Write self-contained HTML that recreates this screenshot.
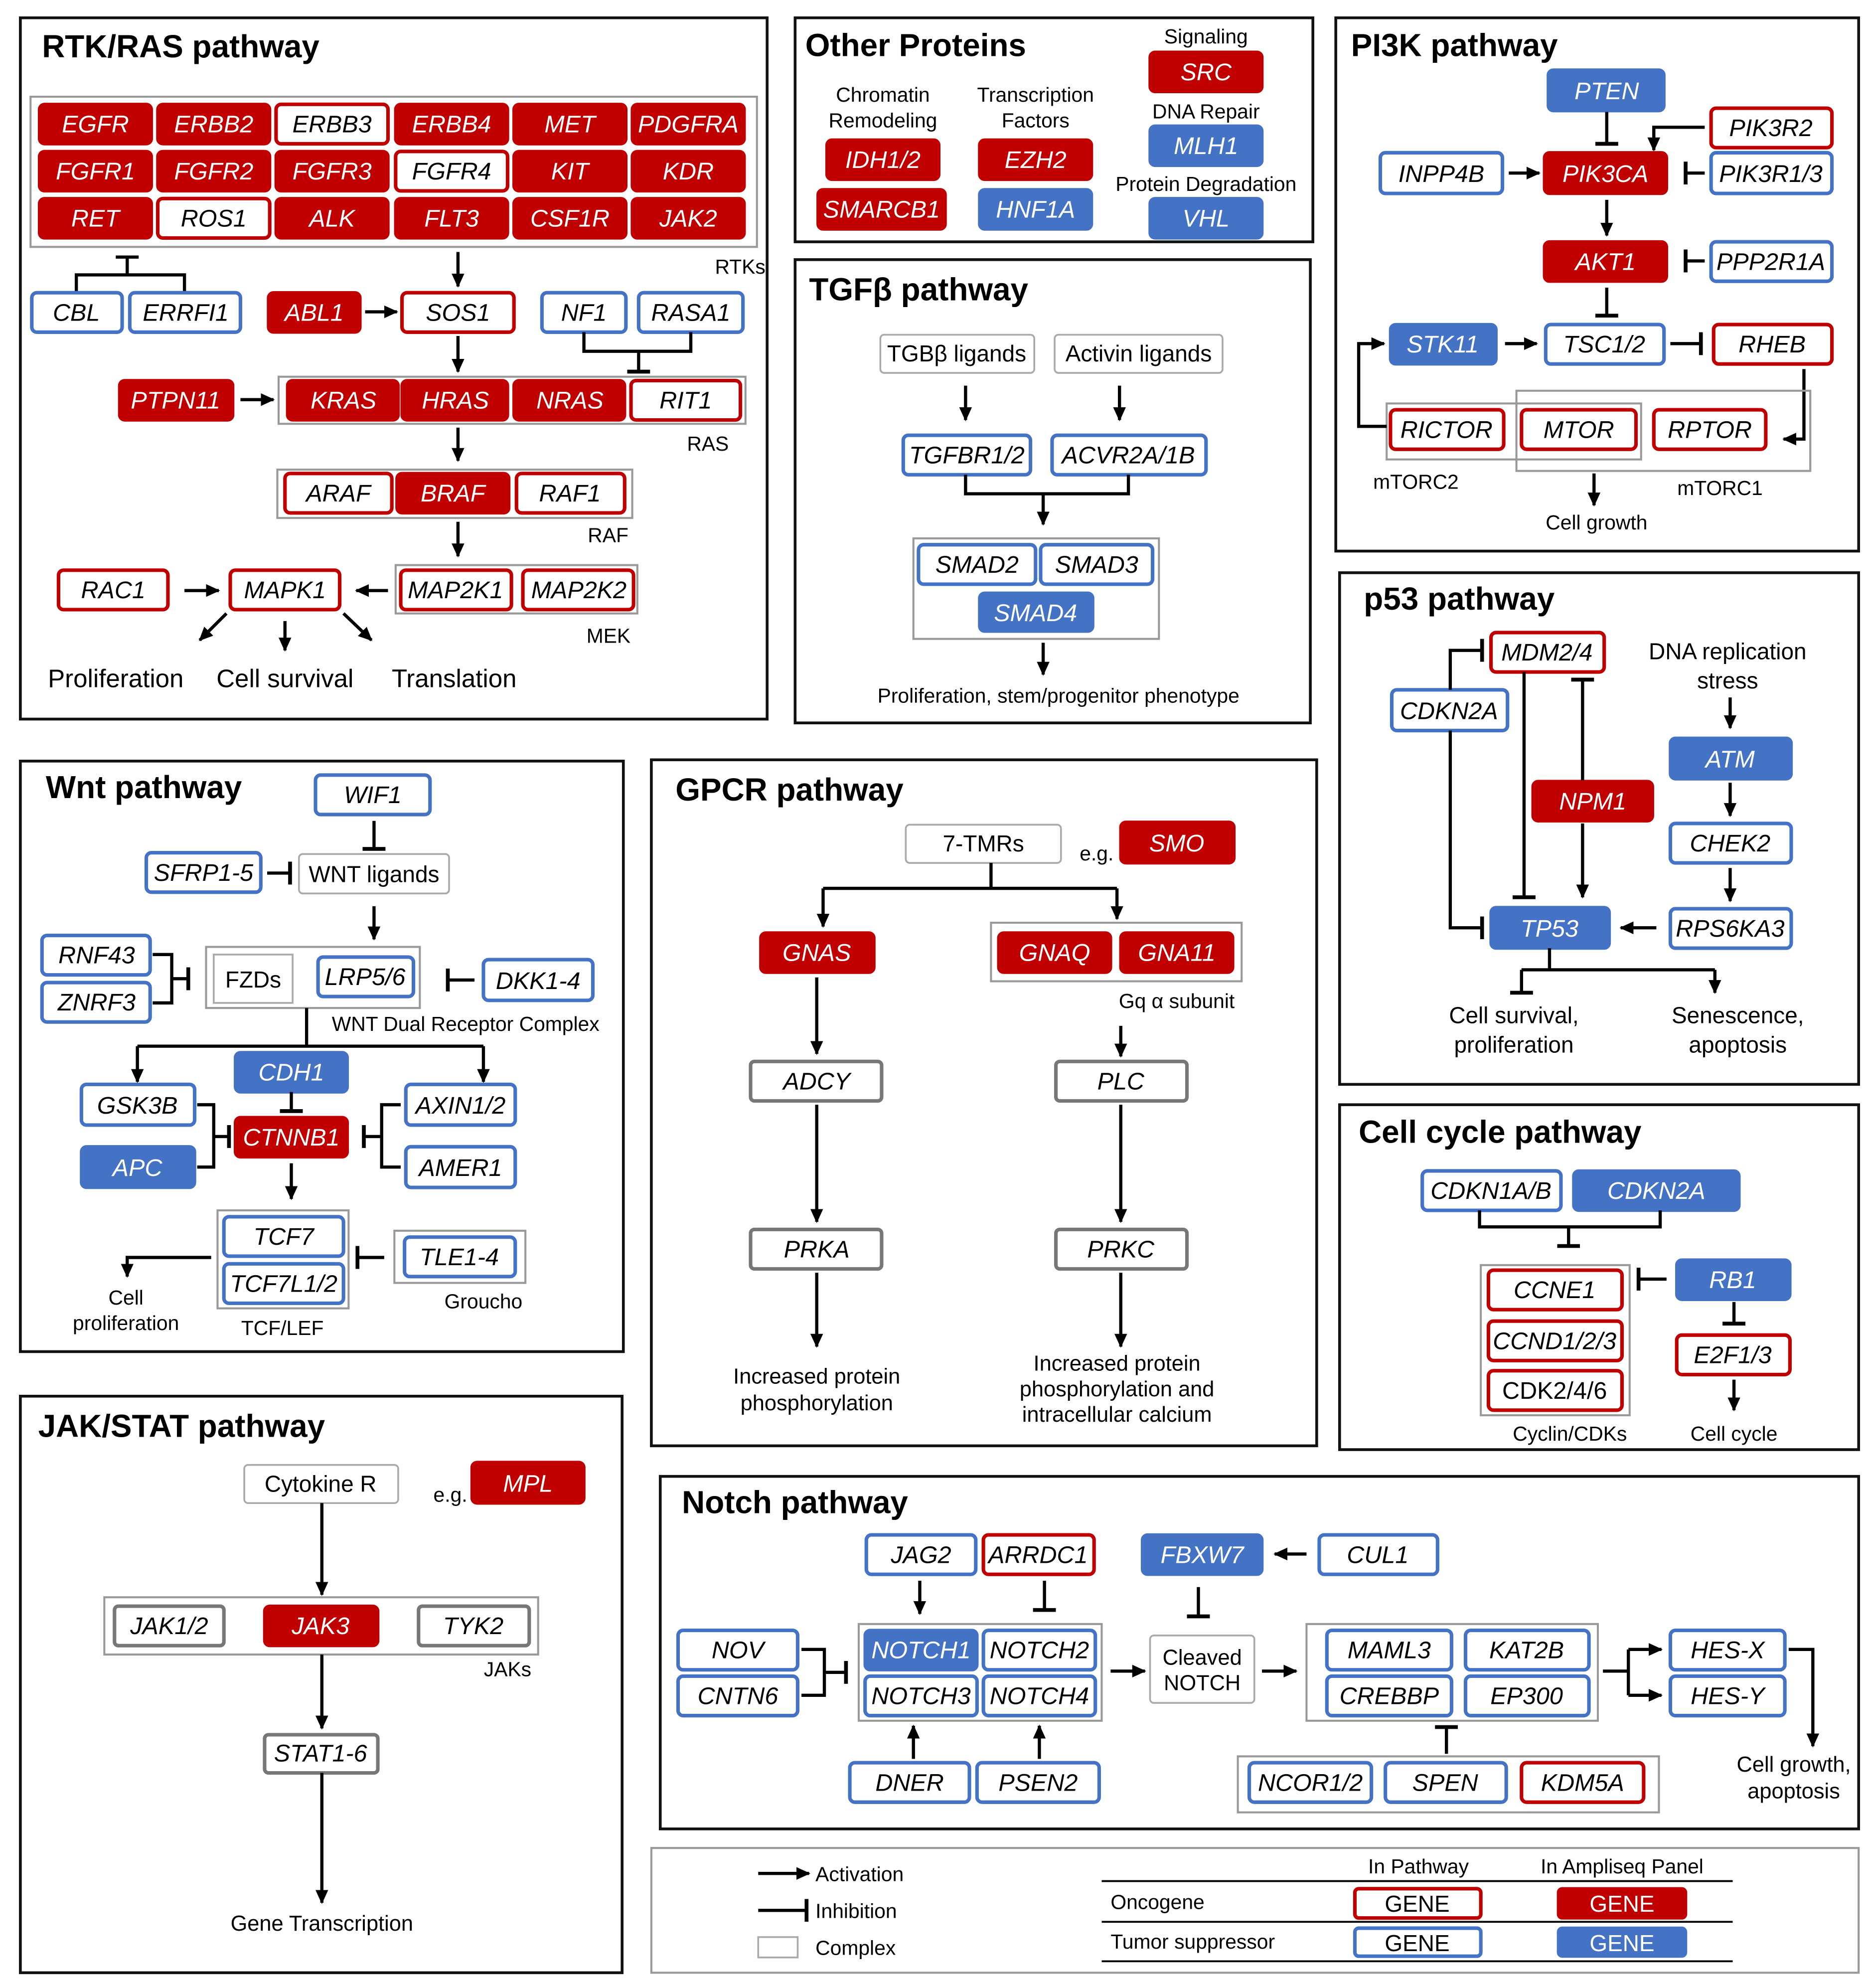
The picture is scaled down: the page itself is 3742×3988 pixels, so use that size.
<!DOCTYPE html>
<html><head><meta charset="utf-8"><style>
html,body{margin:0;padding:0;background:#fff}
svg{display:block}
text{font-family:"Liberation Sans",sans-serif;fill:#000}
.r{fill:#c00000;stroke:#c00000;stroke-width:2.5}
.ro{fill:#fff;stroke:#c00000;stroke-width:2.8}
.b{fill:#4472c4;stroke:#4472c4;stroke-width:2.5}
.bo{fill:#fff;stroke:#4472c4;stroke-width:2.8}
.go{fill:#fff;stroke:#777;stroke-width:2.8}
.cx{fill:none;stroke:#999;stroke-width:1.6}
.lb{fill:#fff;stroke:#aaa;stroke-width:1.4}
.pn{fill:none;stroke:#111;stroke-width:2.2}
.g{font-style:italic;font-size:19px;text-anchor:middle}
.w{fill:#fff}
.m{text-anchor:middle}
.t{font-size:25px;font-weight:bold}
.e{stroke:#000;stroke-width:2.5;fill:none}
</style></head><body>
<svg width="3742" height="3988" viewBox="0 0 1466 1562" preserveAspectRatio="none" font-size="17" xmlns="http://www.w3.org/2000/svg">
<defs>
<marker id="a" markerUnits="userSpaceOnUse" markerWidth="12" markerHeight="12" refX="10" refY="6" orient="auto"><path d="M0,1 L11,6 L0,11 z" fill="#000"/></marker>
<marker id="t" markerUnits="userSpaceOnUse" markerWidth="4" markerHeight="18" refX="2" refY="9" orient="auto"><path d="M2,0 L2,18" stroke="#000" stroke-width="3"/></marker>
</defs>
<rect width="1466" height="1562" fill="#fff"/>
<!-- panels -->
<rect class="pn" x="16" y="14" width="587" height="551"/>
<rect class="pn" x="625" y="14" width="407" height="176"/>
<rect class="pn" x="1050" y="14" width="411" height="419"/>
<rect class="pn" x="625" y="204" width="405" height="364"/>
<rect class="pn" x="1053" y="450" width="408" height="402"/>
<rect class="pn" x="16" y="598" width="474" height="464"/>
<rect class="pn" x="512" y="597" width="523" height="539"/>
<rect class="pn" x="1053" y="868" width="408" height="271"/>
<rect class="pn" x="16" y="1097" width="473" height="453"/>
<rect class="pn" x="519" y="1160" width="942" height="277"/>
<rect x="512" y="1452" width="949" height="98" fill="none" stroke="#999" stroke-width="1.6"/>

<!-- RTK/RAS -->
<text class="t" x="33" y="45">RTK/RAS pathway</text>
<rect class="cx" x="24" y="76" width="571" height="118"/>
<rect class="r" x="31" y="82" width="88" height="31" rx="4"/><text class="g w" x="75" y="104">EGFR</text>
<rect class="r" x="124" y="82" width="88" height="31" rx="4"/><text class="g w" x="168" y="104">ERBB2</text>
<rect class="ro" x="217" y="82" width="88" height="31" rx="4"/><text class="g" x="261" y="104">ERBB3</text>
<rect class="r" x="311" y="82" width="88" height="31" rx="4"/><text class="g w" x="355" y="104">ERBB4</text>
<rect class="r" x="404" y="82" width="88" height="31" rx="4"/><text class="g w" x="448" y="104">MET</text>
<rect class="r" x="497" y="82" width="88" height="31" rx="4"/><text class="g w" x="541" y="104">PDGFRA</text>
<rect class="r" x="31" y="119" width="88" height="31" rx="4"/><text class="g w" x="75" y="141">FGFR1</text>
<rect class="r" x="124" y="119" width="88" height="31" rx="4"/><text class="g w" x="168" y="141">FGFR2</text>
<rect class="r" x="217" y="119" width="88" height="31" rx="4"/><text class="g w" x="261" y="141">FGFR3</text>
<rect class="ro" x="311" y="119" width="88" height="31" rx="4"/><text class="g" x="355" y="141">FGFR4</text>
<rect class="r" x="404" y="119" width="88" height="31" rx="4"/><text class="g w" x="448" y="141">KIT</text>
<rect class="r" x="497" y="119" width="88" height="31" rx="4"/><text class="g w" x="541" y="141">KDR</text>
<rect class="r" x="31" y="156" width="88" height="31" rx="4"/><text class="g w" x="75" y="178">RET</text>
<rect class="ro" x="124" y="156" width="88" height="31" rx="4"/><text class="g" x="168" y="178">ROS1</text>
<rect class="r" x="217" y="156" width="88" height="31" rx="4"/><text class="g w" x="261" y="178">ALK</text>
<rect class="r" x="311" y="156" width="88" height="31" rx="4"/><text class="g w" x="355" y="178">FLT3</text>
<rect class="r" x="404" y="156" width="88" height="31" rx="4"/><text class="g w" x="448" y="178">CSF1R</text>
<rect class="r" x="497" y="156" width="88" height="31" rx="4"/><text class="g w" x="541" y="178">JAK2</text>
<text x="562" y="215" font-size="16">RTKs</text>
<path class="e" d="M60,230 V216 H145 V230 M100,216 V202" />
<path class="e" d="M91,202 H109"/>
<rect class="bo" x="25" y="230" width="71" height="31" rx="4"/><text class="g" x="60" y="252">CBL</text>
<rect class="bo" x="102" y="230" width="87" height="31" rx="4"/><text class="g" x="146" y="252">ERRFI1</text>
<path class="e" d="M360,198 V225" marker-end="url(#a)"/>
<rect class="r" x="211" y="230" width="72" height="31" rx="4"/><text class="g w" x="247" y="252">ABL1</text>
<path class="e" d="M287,245 H312" marker-end="url(#a)"/>
<rect class="ro" x="316" y="230" width="88" height="31" rx="4"/><text class="g" x="360" y="252">SOS1</text>
<rect class="bo" x="426" y="230" width="66" height="31" rx="4"/><text class="g" x="459" y="252">NF1</text>
<rect class="bo" x="502" y="230" width="82" height="31" rx="4"/><text class="g" x="543" y="252">RASA1</text>
<path class="e" d="M459,261 V276 H543 V261 M502,276 V292" marker-end="url(#t)"/>
<path class="e" d="M360,264 V292" marker-end="url(#a)"/>
<rect class="r" x="94" y="299" width="89" height="31" rx="4"/><text class="g w" x="138" y="321">PTPN11</text>
<path class="e" d="M189,314 H215" marker-end="url(#a)"/>
<rect class="cx" x="219" y="296" width="367" height="37"/>
<rect class="r" x="226" y="299" width="87" height="31" rx="4"/><text class="g w" x="270" y="321">KRAS</text>
<rect class="r" x="316" y="299" width="83" height="31" rx="4"/><text class="g w" x="358" y="321">HRAS</text>
<rect class="r" x="404" y="299" width="87" height="31" rx="4"/><text class="g w" x="448" y="321">NRAS</text>
<rect class="ro" x="496" y="299" width="86" height="31" rx="4"/><text class="g" x="539" y="321">RIT1</text>
<text x="540" y="354" font-size="16">RAS</text>
<path class="e" d="M360,336 V362" marker-end="url(#a)"/>
<rect class="cx" x="218" y="369" width="279" height="38"/>
<rect class="ro" x="224" y="372" width="84" height="31" rx="4"/><text class="g" x="266" y="394">ARAF</text>
<rect class="r" x="312" y="372" width="88" height="31" rx="4"/><text class="g w" x="356" y="394">BRAF</text>
<rect class="ro" x="406" y="372" width="85" height="31" rx="4"/><text class="g" x="448" y="394">RAF1</text>
<text x="462" y="426" font-size="16">RAF</text>
<path class="e" d="M360,410 V437" marker-end="url(#a)"/>
<rect class="cx" x="311" y="444" width="190" height="38"/>
<rect class="ro" x="315" y="448" width="87" height="31" rx="4"/><text class="g" x="358" y="470">MAP2K1</text>
<rect class="ro" x="411" y="448" width="87" height="31" rx="4"/><text class="g" x="455" y="470">MAP2K2</text>
<text x="461" y="505" font-size="16">MEK</text>
<rect class="ro" x="46" y="448" width="86" height="31" rx="4"/><text class="g" x="89" y="470">RAC1</text>
<path class="e" d="M145,464 H172" marker-end="url(#a)"/>
<rect class="ro" x="181" y="448" width="86" height="31" rx="4"/><text class="g" x="224" y="470">MAPK1</text>
<path class="e" d="M305,464 H280" marker-end="url(#a)"/>
<path class="e" d="M178,482 L157,503" marker-end="url(#a)"/>
<path class="e" d="M224,488 V511" marker-end="url(#a)"/>
<path class="e" d="M270,482 L292,503" marker-end="url(#a)"/>
<text class="m" x="91" y="540" font-size="20">Proliferation</text>
<text class="m" x="224" y="540" font-size="20">Cell survival</text>
<text class="m" x="357" y="540" font-size="20">Translation</text>

<!-- Other proteins -->
<text class="t" x="633" y="44">Other Proteins</text>
<text class="m" x="694" y="80" font-size="16">Chromatin</text><text class="m" x="694" y="100" font-size="16">Remodeling</text>
<text class="m" x="814" y="80" font-size="16">Transcription</text><text class="m" x="814" y="100" font-size="16">Factors</text>
<text class="m" x="948" y="34" font-size="16">Signaling</text>
<rect class="r" x="904" y="41" width="88" height="31" rx="4"/><text class="g w" x="948" y="63">SRC</text>
<text class="m" x="948" y="93" font-size="16">DNA Repair</text>
<rect class="b" x="904" y="99" width="88" height="31" rx="4"/><text class="g w" x="948" y="121">MLH1</text>
<text class="m" x="948" y="150" font-size="16">Protein Degradation</text>
<rect class="b" x="904" y="156" width="88" height="31" rx="4"/><text class="g w" x="948" y="178">VHL</text>
<rect class="r" x="650" y="110" width="88" height="31" rx="4"/><text class="g w" x="694" y="132">IDH1/2</text>
<rect class="r" x="643" y="149" width="100" height="31" rx="4"/><text class="g w" x="693" y="171">SMARCB1</text>
<rect class="r" x="770" y="110" width="88" height="31" rx="4"/><text class="g w" x="814" y="132">EZH2</text>
<rect class="b" x="770" y="149" width="88" height="31" rx="4"/><text class="g w" x="814" y="171">HNF1A</text>

<!-- PI3K -->
<text class="t" x="1062" y="44">PI3K pathway</text>
<rect class="b" x="1217" y="55" width="91" height="32" rx="4"/><text class="g w" x="1263" y="78">PTEN</text>
<path class="e" d="M1263,88 V113" marker-end="url(#t)"/>
<rect class="ro" x="1345" y="85" width="95" height="31" rx="4"/><text class="g" x="1392" y="107">PIK3R2</text>
<path class="e" d="M1340,100 H1300 V118" marker-end="url(#a)"/>
<rect class="bo" x="1085" y="120" width="96" height="32" rx="4"/><text class="g" x="1133" y="143">INPP4B</text>
<path class="e" d="M1186,136 H1210" marker-end="url(#a)"/>
<rect class="r" x="1214" y="120" width="96" height="32" rx="4"/><text class="g w" x="1262" y="143">PIK3CA</text>
<rect class="bo" x="1345" y="120" width="95" height="32" rx="4"/><text class="g" x="1392" y="143">PIK3R1/3</text>
<path class="e" d="M1340,136 H1325" marker-end="url(#t)"/>
<path class="e" d="M1263,157 V185" marker-end="url(#a)"/>
<rect class="r" x="1214" y="190" width="96" height="31" rx="4"/><text class="g w" x="1262" y="212">AKT1</text>
<rect class="bo" x="1345" y="190" width="95" height="31" rx="4"/><text class="g" x="1392" y="212">PPP2R1A</text>
<path class="e" d="M1340,205 H1325" marker-end="url(#t)"/>
<path class="e" d="M1263,226 V248" marker-end="url(#t)"/>
<rect class="b" x="1093" y="255" width="83" height="31" rx="4"/><text class="g w" x="1134" y="277">STK11</text>
<path class="e" d="M1183,270 H1208" marker-end="url(#a)"/>
<rect class="bo" x="1215" y="255" width="93" height="31" rx="4"/><text class="g" x="1261" y="277">TSC1/2</text>
<path class="e" d="M1313,270 H1337" marker-end="url(#t)"/>
<rect class="ro" x="1347" y="255" width="93" height="31" rx="4"/><text class="g" x="1393" y="277">RHEB</text>
<path class="e" d="M1418,290 V345 H1402" marker-end="url(#a)"/>
<rect class="cx" x="1090" y="317" width="200" height="44"/>
<rect class="cx" x="1192" y="307" width="231" height="63"/>
<path class="e" d="M1090,335 H1068 V270 H1088" marker-end="url(#a)"/>
<rect class="ro" x="1093" y="322" width="89" height="31" rx="4"/><text class="g" x="1137" y="344">RICTOR</text>
<rect class="ro" x="1196" y="322" width="90" height="31" rx="4"/><text class="g" x="1241" y="344">MTOR</text>
<rect class="ro" x="1300" y="322" width="88" height="31" rx="4"/><text class="g" x="1344" y="344">RPTOR</text>
<text class="m" x="1113" y="384" font-size="16">mTORC2</text>
<text class="m" x="1352" y="389" font-size="16">mTORC1</text>
<path class="e" d="M1253,372 V397" marker-end="url(#a)"/>
<text class="m" x="1255" y="416" font-size="16">Cell growth</text>

<!-- TGFb -->
<text class="t" x="636" y="236">TGFβ pathway</text>
<rect class="lb" x="692" y="263" width="121" height="30" rx="3"/><text class="m" x="752" y="284" font-size="18">TGBβ ligands</text>
<rect class="lb" x="829" y="263" width="132" height="30" rx="3"/><text class="m" x="895" y="284" font-size="18">Activin ligands</text>
<path class="e" d="M759,303 V330" marker-end="url(#a)"/>
<path class="e" d="M880,303 V330" marker-end="url(#a)"/>
<rect class="bo" x="710" y="342" width="100" height="31" rx="4"/><text class="g" x="760" y="364">TGFBR1/2</text>
<rect class="bo" x="827" y="342" width="121" height="31" rx="4"/><text class="g" x="887" y="364">ACVR2A/1B</text>
<path class="e" d="M759,373 V388 H887 V373 M820,388 V412" marker-end="url(#a)"/>
<rect class="cx" x="718" y="423" width="193" height="79"/>
<rect class="bo" x="722" y="428" width="92" height="31" rx="4"/><text class="g" x="768" y="450">SMAD2</text>
<rect class="bo" x="818" y="428" width="88" height="31" rx="4"/><text class="g" x="862" y="450">SMAD3</text>
<rect class="b" x="770" y="466" width="89" height="30" rx="4"/><text class="g w" x="814" y="488">SMAD4</text>
<path class="e" d="M820,505 V530" marker-end="url(#a)"/>
<text class="m" x="832" y="552" font-size="16">Proliferation, stem/progenitor phenotype</text>

<!-- p53 -->
<text class="t" x="1072" y="479">p53 pathway</text>
<rect class="ro" x="1172" y="497" width="89" height="31" rx="4"/><text class="g" x="1216" y="519">MDM2/4</text>
<rect class="bo" x="1094" y="542" width="91" height="32" rx="4"/><text class="g" x="1139" y="565">CDKN2A</text>
<path class="e" d="M1140,542 V511 H1165" marker-end="url(#t)"/>
<text class="m" x="1358" y="518" font-size="18">DNA replication</text>
<text class="m" x="1358" y="541" font-size="18">stress</text>
<path class="e" d="M1360,548 V572" marker-end="url(#a)"/>
<rect class="b" x="1313" y="580" width="95" height="32" rx="4"/><text class="g w" x="1360" y="603">ATM</text>
<path class="e" d="M1360,615 V641" marker-end="url(#a)"/>
<rect class="bo" x="1313" y="647" width="95" height="31" rx="4"/><text class="g" x="1360" y="669">CHEK2</text>
<path class="e" d="M1360,682 V708" marker-end="url(#a)"/>
<rect class="bo" x="1313" y="714" width="95" height="31" rx="4"/><text class="g" x="1360" y="736">RPS6KA3</text>
<path class="e" d="M1302,729 H1274" marker-end="url(#a)"/>
<rect class="b" x="1172" y="713" width="93" height="32" rx="4"/><text class="g w" x="1218" y="736">TP53</text>
<rect class="r" x="1205" y="614" width="94" height="31" rx="4"/><text class="g w" x="1252" y="636">NPM1</text>
<path class="e" d="M1198,528 V705" marker-end="url(#t)"/>
<path class="e" d="M1244,613 V534" marker-end="url(#t)"/>
<path class="e" d="M1244,647 V705" marker-end="url(#a)"/>
<path class="e" d="M1140,574 V729 H1165" marker-end="url(#t)"/>
<path class="e" d="M1218,745 V762 M1196,762 H1348"/>
<path class="e" d="M1196,762 V780" marker-end="url(#t)"/>
<path class="e" d="M1348,762 V780" marker-end="url(#a)"/>
<text class="m" x="1190" y="804" font-size="18">Cell survival,</text><text class="m" x="1190" y="827" font-size="18">proliferation</text>
<text class="m" x="1366" y="804" font-size="18">Senescence,</text><text class="m" x="1366" y="827" font-size="18">apoptosis</text>

<!-- Wnt -->
<text class="t" x="36" y="627">Wnt pathway</text>
<rect class="bo" x="248" y="609" width="90" height="31" rx="4"/><text class="g" x="293" y="631">WIF1</text>
<path class="e" d="M294,645 V667" marker-end="url(#t)"/>
<rect class="bo" x="115" y="670" width="90" height="31" rx="4"/><text class="g" x="160" y="692">SFRP1-5</text>
<path class="e" d="M210,686 H228" marker-end="url(#t)"/>
<rect class="lb" x="235" y="671" width="118" height="31" rx="3"/><text class="m" x="294" y="693" font-size="18">WNT ligands</text>
<path class="e" d="M294,712 V738" marker-end="url(#a)"/>
<rect class="bo" x="33" y="735" width="85" height="31" rx="4"/><text class="g" x="76" y="757">RNF43</text>
<rect class="bo" x="33" y="772" width="85" height="31" rx="4"/><text class="g" x="76" y="794">ZNRF3</text>
<path class="e" d="M120,750 H135 V788 H120 M135,769 H148" marker-end="url(#t)"/>
<rect class="cx" x="162" y="744" width="168" height="48"/>
<rect class="lb" x="168" y="750" width="62" height="38"/><text class="m" x="199" y="776" font-size="18">FZDs</text>
<rect class="bo" x="250" y="752" width="75" height="31" rx="4"/><text class="g" x="287" y="774">LRP5/6</text>
<rect class="bo" x="380" y="754" width="86" height="32" rx="4"/><text class="g" x="423" y="777">DKK1-4</text>
<path class="e" d="M373,770 H352" marker-end="url(#t)"/>
<text class="m" x="366" y="810" font-size="16">WNT Dual Receptor Complex</text>
<path class="e" d="M241,792 V822 M108,822 H380"/>
<path class="e" d="M108,822 V850" marker-end="url(#a)"/>
<path class="e" d="M380,822 V850" marker-end="url(#a)"/>
<rect class="b" x="185" y="827" width="88" height="31" rx="4"/><text class="g w" x="229" y="849">CDH1</text>
<path class="e" d="M229,858 V873" marker-end="url(#t)"/>
<rect class="bo" x="64" y="852" width="89" height="32" rx="4"/><text class="g" x="108" y="875">GSK3B</text>
<rect class="b" x="64" y="901" width="89" height="32" rx="4"/><text class="g w" x="108" y="924">APC</text>
<path class="e" d="M155,868 H168 V917 H155 M168,893 H180" marker-end="url(#t)"/>
<rect class="r" x="185" y="878" width="88" height="31" rx="4"/><text class="g w" x="229" y="900">CTNNB1</text>
<rect class="bo" x="319" y="852" width="86" height="32" rx="4"/><text class="g" x="362" y="875">AXIN1/2</text>
<rect class="bo" x="319" y="901" width="86" height="32" rx="4"/><text class="g" x="362" y="924">AMER1</text>
<path class="e" d="M315,868 H300 V917 H315 M300,893 H286" marker-end="url(#t)"/>
<path class="e" d="M229,914 V942" marker-end="url(#a)"/>
<rect class="cx" x="171" y="951" width="103" height="77"/>
<rect class="bo" x="176" y="956" width="94" height="31" rx="4"/><text class="g" x="223" y="978">TCF7</text>
<rect class="bo" x="176" y="993" width="94" height="31" rx="4"/><text class="g" x="223" y="1015">TCF7L1/2</text>
<path class="e" d="M166,988 H100 V1003" marker-end="url(#a)"/>
<text class="m" x="99" y="1025" font-size="16">Cell</text><text class="m" x="99" y="1045" font-size="16">proliferation</text>
<text class="m" x="222" y="1049" font-size="16">TCF/LEF</text>
<rect class="cx" x="310" y="967" width="103" height="41"/>
<rect class="bo" x="318" y="972" width="87" height="31" rx="4"/><text class="g" x="361" y="994">TLE1-4</text>
<path class="e" d="M302,988 H281" marker-end="url(#t)"/>
<text class="m" x="380" y="1028" font-size="16">Groucho</text>

<!-- GPCR -->
<text class="t" x="531" y="629">GPCR pathway</text>
<rect class="lb" x="712" y="648" width="122" height="30" rx="3"/><text class="m" x="773" y="669" font-size="18">7-TMRs</text>
<text class="m" x="862" y="676" font-size="16">e.g.</text>
<rect class="r" x="881" y="646" width="89" height="32" rx="4"/><text class="g w" x="925" y="669">SMO</text>
<path class="e" d="M779,678 V698 M647,698 H878"/>
<path class="e" d="M647,698 V728" marker-end="url(#a)"/>
<path class="e" d="M878,698 V722" marker-end="url(#a)"/>
<rect class="r" x="598" y="733" width="89" height="31" rx="4"/><text class="g w" x="642" y="755">GNAS</text>
<rect class="cx" x="779" y="725" width="197" height="46"/>
<rect class="r" x="785" y="733" width="88" height="31" rx="4"/><text class="g w" x="829" y="755">GNAQ</text>
<rect class="r" x="881" y="733" width="88" height="31" rx="4"/><text class="g w" x="925" y="755">GNA11</text>
<text class="m" x="925" y="792" font-size="16">Gq α subunit</text>
<path class="e" d="M642,768 V828" marker-end="url(#a)"/>
<path class="e" d="M881,806 V830" marker-end="url(#a)"/>
<rect class="go" x="590" y="834" width="103" height="31" rx="3"/><text class="g" x="642" y="856">ADCY</text>
<rect class="go" x="830" y="834" width="103" height="31" rx="3"/><text class="g" x="881" y="856">PLC</text>
<path class="e" d="M642,868 V960" marker-end="url(#a)"/>
<path class="e" d="M881,868 V960" marker-end="url(#a)"/>
<rect class="go" x="590" y="966" width="103" height="31" rx="3"/><text class="g" x="642" y="988">PRKA</text>
<rect class="go" x="830" y="966" width="103" height="31" rx="3"/><text class="g" x="881" y="988">PRKC</text>
<path class="e" d="M642,1000 V1058" marker-end="url(#a)"/>
<path class="e" d="M881,1000 V1058" marker-end="url(#a)"/>
<text class="m" x="642" y="1087">Increased protein</text><text class="m" x="642" y="1108">phosphorylation</text>
<text class="m" x="878" y="1077">Increased protein</text><text class="m" x="878" y="1097">phosphorylation and</text><text class="m" x="878" y="1117">intracellular calcium</text>

<!-- Cell cycle -->
<text class="t" x="1068" y="898">Cell cycle pathway</text>
<rect class="bo" x="1118" y="920" width="109" height="31" rx="4"/><text class="g" x="1172" y="942">CDKN1A/B</text>
<rect class="b" x="1237" y="920" width="130" height="31" rx="4"/><text class="g w" x="1302" y="942">CDKN2A</text>
<path class="e" d="M1163,951 V964 H1305 V951 M1233,964 V979" marker-end="url(#t)"/>
<rect class="cx" x="1164" y="994" width="117" height="118"/>
<rect class="ro" x="1170" y="998" width="105" height="31" rx="4"/><text class="g" x="1222" y="1020">CCNE1</text>
<rect class="ro" x="1170" y="1038" width="105" height="31" rx="4"/><text class="g" x="1222" y="1060">CCND1/2/3</text>
<rect class="ro" x="1170" y="1077" width="105" height="31" rx="4"/><text class="m" x="1222" y="1099" font-size="19">CDK2/4/6</text>
<text class="m" x="1234" y="1132" font-size="16">Cyclin/CDKs</text>
<rect class="b" x="1318" y="990" width="89" height="31" rx="4"/><text class="g w" x="1362" y="1012">RB1</text>
<path class="e" d="M1310,1005 H1288" marker-end="url(#t)"/>
<path class="e" d="M1363,1023 V1040" marker-end="url(#t)"/>
<rect class="ro" x="1318" y="1049" width="89" height="31" rx="4"/><text class="g" x="1362" y="1071">E2F1/3</text>
<path class="e" d="M1363,1084 V1108" marker-end="url(#a)"/>
<text class="m" x="1363" y="1132" font-size="16">Cell cycle</text>

<!-- JAK/STAT -->
<text class="t" x="30" y="1129">JAK/STAT pathway</text>
<rect class="lb" x="192" y="1151" width="121" height="30" rx="3"/><text class="m" x="252" y="1172" font-size="18">Cytokine R</text>
<text class="m" x="354" y="1180" font-size="16">e.g.</text>
<rect class="r" x="371" y="1149" width="88" height="32" rx="4"/><text class="g w" x="415" y="1172">MPL</text>
<path class="e" d="M253,1181 V1253" marker-end="url(#a)"/>
<rect class="cx" x="82" y="1255" width="341" height="45"/>
<rect class="go" x="90" y="1262" width="86" height="31" rx="3"/><text class="g" x="133" y="1284">JAK1/2</text>
<rect class="r" x="208" y="1262" width="89" height="31" rx="4"/><text class="g w" x="252" y="1284">JAK3</text>
<rect class="go" x="329" y="1262" width="87" height="31" rx="3"/><text class="g" x="372" y="1284">TYK2</text>
<text class="m" x="399" y="1317" font-size="16">JAKs</text>
<path class="e" d="M253,1300 V1358" marker-end="url(#a)"/>
<rect class="go" x="208" y="1363" width="89" height="30" rx="3"/><text class="g" x="252" y="1384">STAT1-6</text>
<path class="e" d="M253,1393 V1495" marker-end="url(#a)"/>
<text class="m" x="253" y="1517">Gene Transcription</text>

<!-- Notch -->
<text class="t" x="536" y="1189">Notch pathway</text>
<rect class="bo" x="681" y="1206" width="86" height="31" rx="4"/><text class="g" x="724" y="1228">JAG2</text>
<rect class="ro" x="773" y="1206" width="87" height="31" rx="4"/><text class="g" x="816" y="1228">ARRDC1</text>
<rect class="b" x="898" y="1206" width="94" height="31" rx="4"/><text class="g w" x="945" y="1228">FBXW7</text>
<path class="e" d="M1027,1221 H1002" marker-end="url(#a)"/>
<rect class="bo" x="1037" y="1206" width="93" height="31" rx="4"/><text class="g" x="1083" y="1228">CUL1</text>
<path class="e" d="M723,1242 V1268" marker-end="url(#a)"/>
<path class="e" d="M821,1242 V1265" marker-end="url(#t)"/>
<path class="e" d="M942,1247 V1270" marker-end="url(#t)"/>
<rect class="bo" x="533" y="1281" width="94" height="31" rx="4"/><text class="g" x="580" y="1303">NOV</text>
<rect class="bo" x="533" y="1317" width="94" height="31" rx="4"/><text class="g" x="580" y="1339">CNTN6</text>
<path class="e" d="M630,1296 H648 V1332 H630 M648,1314 H665" marker-end="url(#t)"/>
<rect class="cx" x="675" y="1276" width="191" height="76"/>
<rect class="b" x="680" y="1281" width="88" height="31" rx="4"/><text class="g w" x="724" y="1303">NOTCH1</text>
<rect class="bo" x="773" y="1281" width="88" height="31" rx="4"/><text class="g" x="817" y="1303">NOTCH2</text>
<rect class="bo" x="680" y="1317" width="88" height="31" rx="4"/><text class="g" x="724" y="1339">NOTCH3</text>
<rect class="bo" x="773" y="1317" width="88" height="31" rx="4"/><text class="g" x="817" y="1339">NOTCH4</text>
<path class="e" d="M718,1382 V1356" marker-end="url(#a)"/>
<path class="e" d="M817,1382 V1356" marker-end="url(#a)"/>
<rect class="bo" x="668" y="1385" width="94" height="31" rx="4"/><text class="g" x="715" y="1407">DNER</text>
<rect class="bo" x="768" y="1385" width="96" height="31" rx="4"/><text class="g" x="816" y="1407">PSEN2</text>
<path class="e" d="M873,1313 H900" marker-end="url(#a)"/>
<rect class="lb" x="904" y="1285" width="82" height="53" rx="3"/><text class="m" x="945" y="1308">Cleaved</text><text class="m" x="945" y="1328">NOTCH</text>
<path class="e" d="M992,1313 H1019" marker-end="url(#a)"/>
<rect class="cx" x="1027" y="1276" width="229" height="76"/>
<rect class="bo" x="1043" y="1281" width="98" height="31" rx="4"/><text class="g" x="1092" y="1303">MAML3</text>
<rect class="bo" x="1152" y="1281" width="97" height="31" rx="4"/><text class="g" x="1200" y="1303">KAT2B</text>
<rect class="bo" x="1043" y="1317" width="98" height="31" rx="4"/><text class="g" x="1092" y="1339">CREBBP</text>
<rect class="bo" x="1152" y="1317" width="97" height="31" rx="4"/><text class="g" x="1200" y="1339">EP300</text>
<path class="e" d="M1137,1378 V1357" marker-end="url(#t)"/>
<rect class="cx" x="973" y="1380" width="331" height="44"/>
<rect class="bo" x="982" y="1385" width="96" height="31" rx="4"/><text class="g" x="1030" y="1407">NCOR1/2</text>
<rect class="bo" x="1089" y="1385" width="95" height="31" rx="4"/><text class="g" x="1136" y="1407">SPEN</text>
<rect class="ro" x="1196" y="1385" width="96" height="31" rx="4"/><text class="g" x="1244" y="1407">KDM5A</text>
<path class="e" d="M1260,1313 H1280 M1280,1296 V1332"/>
<path class="e" d="M1280,1296 H1306" marker-end="url(#a)"/>
<path class="e" d="M1280,1332 H1306" marker-end="url(#a)"/>
<rect class="bo" x="1313" y="1281" width="90" height="31" rx="4"/><text class="g" x="1358" y="1303">HES-X</text>
<rect class="bo" x="1313" y="1317" width="90" height="31" rx="4"/><text class="g" x="1358" y="1339">HES-Y</text>
<path class="e" d="M1406,1296 H1425 V1372" marker-end="url(#a)"/>
<text class="m" x="1410" y="1392">Cell growth,</text><text class="m" x="1410" y="1413">apoptosis</text>

<!-- Legend -->
<path class="e" d="M596,1472 H636" marker-end="url(#a)"/>
<text x="641" y="1478" font-size="16">Activation</text>
<path class="e" d="M596,1501 H634" marker-end="url(#t)"/>
<text x="641" y="1507" font-size="16">Inhibition</text>
<rect class="lb" x="596" y="1522" width="31" height="16"/>
<text x="641" y="1536" font-size="16">Complex</text>
<text class="m" x="1115" y="1472" font-size="16">In Pathway</text>
<text class="m" x="1275" y="1472" font-size="16">In Ampliseq Panel</text>
<path d="M866,1478 H1362 M866,1510 H1362 M866,1541 H1362" stroke="#000" stroke-width="1.5"/>
<text x="873" y="1500" font-size="16">Oncogene</text>
<text x="873" y="1531" font-size="16">Tumor suppressor</text>
<rect class="ro" x="1065" y="1484" width="99" height="23" rx="3"/><text class="m" x="1114" y="1502" font-size="18">GENE</text>
<rect class="r" x="1225" y="1484" width="100" height="23" rx="3"/><text class="m w" x="1275" y="1502" font-size="18">GENE</text>
<rect class="bo" x="1065" y="1515" width="99" height="22" rx="3"/><text class="m" x="1114" y="1533" font-size="18">GENE</text>
<rect class="b" x="1225" y="1515" width="100" height="22" rx="3"/><text class="m w" x="1275" y="1533" font-size="18">GENE</text>
</svg>
</body></html>
